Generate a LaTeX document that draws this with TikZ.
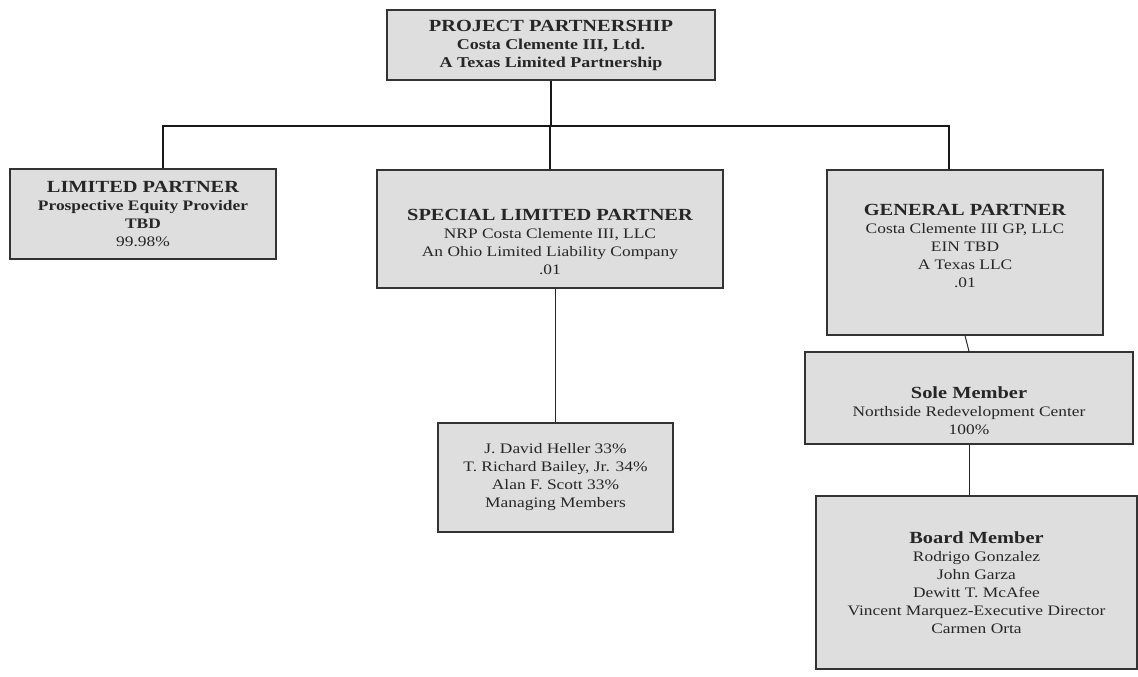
\documentclass[tikz,border=0pt]{standalone}
\usepackage{fontspec}
\setmainfont{Liberation Serif}[FakeStretch=1.2]
\begin{document}
\begin{tikzpicture}[x=1pt,y=-1pt,
  box/.style={draw=black!80,line width=1.4pt,fill=black!13,inner sep=0pt},
  txt/.style={align=center,text=black!85,inner sep=0pt,font=\fontsize{14.5}{18}\selectfont},
  bus/.style={line width=2.6pt,draw=black!90},
  thin/.style={line width=1pt,draw=black!85}]
\useasboundingbox (0,0) rectangle (1138,677);
\newcommand{\ttl}[1]{{\fontsize{17}{18}\selectfont\bfseries #1}}
% boxes
\node[box,minimum width=328pt,minimum height=70pt] (pp) at (551,45) {};
\node[box,minimum width=266pt,minimum height=90pt] (lp) at (143,214) {};
\node[box,minimum width=346pt,minimum height=118pt] (slp) at (550,229) {};
\node[box,minimum width=276pt,minimum height=165pt] (gp) at (965,252.5) {};
\node[box,minimum width=235pt,minimum height=109pt] (mm) at (555.5,477.5) {};
\node[box,minimum width=328pt,minimum height=92pt] (sm) at (969,398) {};
\node[box,minimum width=321pt,minimum height=173pt] (bm) at (976.5,582.5) {};
% texts
\node[txt] (ppT) at (pp.center) {\ttl{PROJECT PARTNERSHIP}\\{\fontsize{15}{18}\selectfont\bfseries Costa Clemente III, Ltd.}\\{\fontsize{15}{18}\selectfont\bfseries A Texas Limited Partnership}};
\node[txt] (lpT) at (lp.center) {\ttl{LIMITED PARTNER}\\{\bfseries Prospective Equity Provider}\\{\bfseries TBD}\\99.98\%};
\node[txt] (slpT) at ([yshift=-13pt]slp.center) {\ttl{SPECIAL LIMITED PARTNER}\\NRP Costa Clemente III, LLC\\An Ohio Limited Liability Company\\.01};
\node[txt] (gpT) at ([yshift=7pt]gp.center) {\ttl{GENERAL PARTNER}\\Costa Clemente III GP, LLC\\EIN TBD\\A Texas LLC\\.01};
\node[txt] (mmT) at (mm.center) {J. David Heller 33\%\\T. Richard Bailey, Jr. 34\%\\Alan F. Scott 33\%\\Managing Members};
\node[txt] (smT) at ([yshift=-13pt]sm.center) {\ttl{Sole Member}\\Northside Redevelopment Center\\100\%};
\node[txt] (bmT) at (bm.center) {\ttl{Board Member}\\Rodrigo Gonzalez\\John Garza\\Dewitt T. McAfee\\Vincent Marquez-Executive Director\\Carmen Orta};
% connectors
\coordinate (bl) at (163,126);
\coordinate (br) at (949,126);
\draw[bus] (pp.south) -- (pp.south |- bl);
\draw[bus,line join=miter] (bl |- lp.north) -- (bl) -- (br) -- (br |- gp.north);
\draw[bus] (slp.north |- bl) -- (slp.north);
\draw[thin] (mm.north |- slp.south) -- (mm.north);
\draw[thin] (gp.south) -- (sm.north);
\draw[thin] (sm.south) -- (sm.south |- bm.north);
\end{tikzpicture}
\end{document}
